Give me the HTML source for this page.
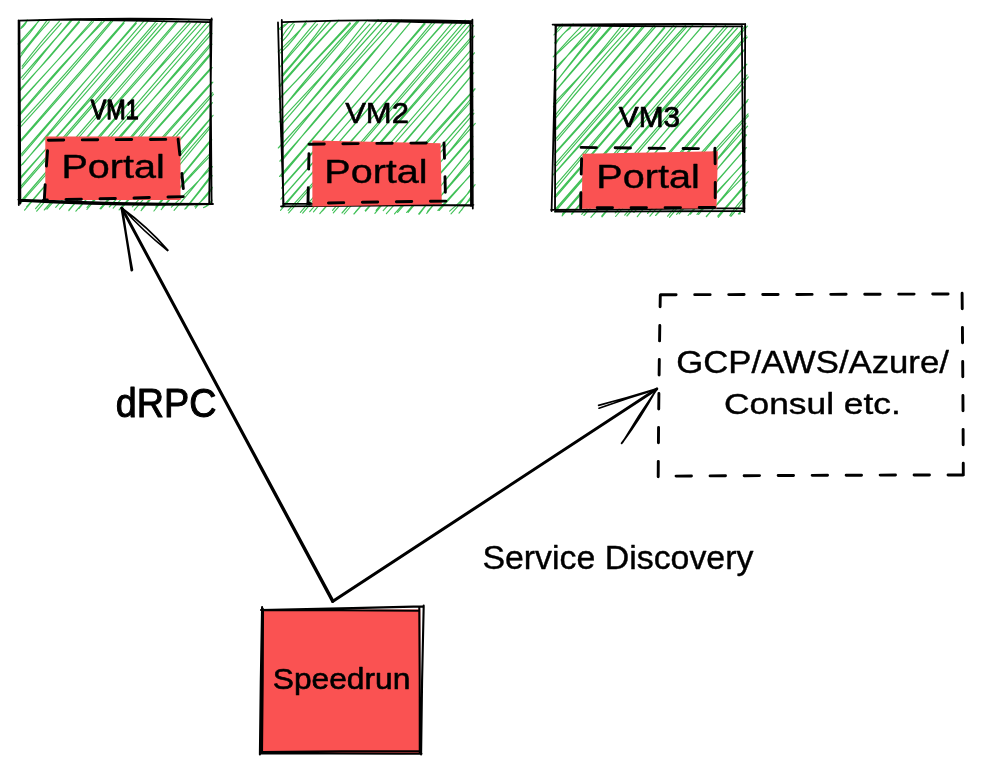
<!DOCTYPE html>
<html lang="en">
<head>
<meta charset="utf-8">
<title>Speedrun service discovery diagram</title>
<style>
html,body{margin:0;padding:0;background:#fff;}
body{width:982px;height:773px;overflow:hidden;}
svg{display:block;}
svg text{font-family:"Liberation Sans",sans-serif;fill:#000;}
svg{filter:opacity(1);}
</style>
</head>
<body>
<svg width="982" height="773" viewBox="0 0 982 773">
<rect width="982" height="773" fill="#fff"/>
<path d="M20.9 28.5Q25.3 25.5 27.3 20M21.3 27.1Q23.1 25.7 27 20.6M18.2 44Q27.8 33.2 39 20.9M20.3 43.2Q30.9 33.3 39.3 19.7M21.1 53.3Q36.1 35.7 47.6 19.7M19.8 57.6Q34.2 37.9 49.2 21.7M22.2 66.2Q39 43.6 59.5 21.1M22.1 68.7Q40.2 46.3 61.1 23.3M21 77.9Q45.5 49.9 72.6 19.5M22.7 79.5Q45.9 50.3 70.8 20.2M18.6 91Q50.3 57.7 79.5 22.2M20.4 90.5Q51.5 54.1 80.8 19M18.4 102.8Q56.6 62.5 91.8 21M19.2 103.1Q56.7 60.6 93.4 21.6M20.3 114.7Q61.1 68.3 101.5 21.9M18.8 114.9Q59.7 66 104.3 21.1M18.3 125.4Q66.4 73.3 110.7 21.3M20.3 127.1Q67.4 75.8 112.6 21.2M20.1 140.9Q71.8 80.8 125.7 19.8M21.4 140.8Q72.7 83.2 124.1 23.1M20.2 155.3Q76.4 91 136.3 23.4M21.8 155.8Q80.4 86.7 137.6 20.4M22.6 164.3Q82.7 90.7 145.3 19.4M18.5 168.4Q84.2 95.6 147.9 21.3M20.1 179Q88 100.2 156.9 20.3M21.1 176.7Q90.7 100.6 157.2 23.4M20.1 187.2Q91.9 104.8 164.1 20.3M21.1 188.2Q94.3 103.9 167.3 21.5M19.7 202.5Q98.1 111.8 176.7 21.2M21.4 202.4Q101.1 113.6 178.3 21M26.6 206.8Q106.5 114.3 190.2 23.2M24.6 210.2Q105.5 114 189 20.4M36.7 211.2Q118.5 115.7 196.8 22.7M35.6 208.7Q116.1 114.8 200.6 23.3M46.9 209.1Q130.8 115.3 211.1 22.8M44.3 210Q127.2 115.5 207.3 21.8M55.7 207.3Q135.9 118.5 212 33.5M59.5 209.1Q135.4 119.5 210.7 31.2M69 210Q142.5 125.8 212 44.1M68.8 210.6Q139.6 125.7 210.7 43.3M75.9 211.2Q143.2 135.3 209.9 55.7M79.1 208.3Q143.2 129.8 210.9 52.8M87 207.4Q148.3 139.3 212.2 67.6M86.9 209.5Q147.8 137.2 211.1 67.6M100.9 208.8Q155.6 147 212.9 82.2M100 208.6Q155.4 143.8 211.6 82.3M109.3 207Q160.1 150.5 212.6 92.7M113.2 208.2Q163.8 151.4 213.5 94.2M119.1 209.9Q166.3 156.1 212.5 102.6M121.2 208.5Q167.5 155 210.1 103.9M132.3 206.9Q174 160.4 213.1 115.3M134.2 210.1Q174.5 162.9 210.8 118.3M141.1 210.6Q176.1 169.6 210.2 127.9M141.7 209.3Q173.5 166.2 209.2 126.7M155.7 207.1Q183 174 210.9 139.6M153.9 211Q182.3 175.2 211.8 139.8M161.2 209.6Q185.8 180.5 211.4 154.9M162.4 207.4Q185.2 179.8 211.3 152.1M171.4 207.1Q193.2 187.2 212.5 166.7M174.1 210.3Q193.4 188.3 211.1 165.2M184.9 209.2Q198.3 192.6 210.1 176.6M186 208.4Q198.4 193.4 212.3 175.7M194.8 206.6Q205 199 212 188.8M195.5 208.2Q203.9 197.3 212.3 187.3M203.5 207.6Q207.8 206.5 211.6 201.9M204.9 207.2Q210.3 202.2 212.2 200.2" fill="none" stroke="#40c057" stroke-width="1.15" stroke-linecap="round"/>
<path d="M18.5 20.7Q115.2 17.3 212 19.8M60 19.7Q134.5 20.6 209 22.2M211.6 18.5Q210 110.7 209.2 203M210.2 20Q211.3 111.5 211.6 203M18.3 199.6Q115.6 203.8 213 204M20 200.8Q116.2 206.3 212.5 204.2M18.6 20.5Q18.3 112.8 18.8 205M19.4 21Q20.3 112.2 20.4 203.5" fill="none" stroke="#000" stroke-width="1.8" stroke-linecap="round" stroke-linejoin="round"/>
<polygon points="45.3,136.6 180.5,136.6 180.5,199.9 45.3,199.9" fill="#fa5252"/>
<path d="M48.4 140.2Q112.8 139.5 177.7 139.4M178.1 139.3Q181.6 168.6 184.1 197M183.3 196.6Q113.5 198.7 43.5 200M44.3 199.9Q45.9 170.2 48.4 140" fill="none" stroke="#000" stroke-width="2.9" stroke-linecap="round" stroke-linejoin="round" stroke-dasharray="15.4 18.6"/>
<text transform="translate(90.79 119.36) scale(0.8276 1)" font-size="28.14" stroke="#000" stroke-width="1.28" stroke-linejoin="round">VM1</text>
<text transform="translate(61.47 177.60) scale(1.2132 1)" font-size="32.61" stroke="#000" stroke-width="0.4" stroke-linejoin="round">Portal</text>
<path d="M280.3 29.6Q284.7 26.1 289 21.8M278.9 29.4Q281.6 25.6 287.5 23.5M282 41.5Q290 33.6 294.3 24.4M281.1 38.8Q285.9 29.2 294.2 22.1M278.2 51.9Q292.3 38.4 306.3 23.7M280.5 52.9Q295.5 38.9 306.4 20.9M281.5 64.2Q297.4 43.6 316.6 20.9M280 66.8Q300.1 43.6 317.4 24.3M282.6 76.4Q304.7 49.5 330.4 21.5M281.9 75.4Q305.7 49.3 325.9 21.2M279.2 85.9Q306.1 54.9 335.5 23.5M280.2 86.3Q310.1 51.7 338.9 20.2M279.1 98.7Q314 62.6 350.5 23.5M279.1 99.3Q312.9 63 349.9 22.7M279.3 112.7Q316.6 65.2 357.3 21M280.9 110.1Q319.6 67.5 358.7 21.4M280.9 125.3Q325.6 74.1 367.1 20.3M279.2 121.9Q323.4 74.9 369.9 24.2M281 136.2Q331.4 76.9 378.2 19.7M281.5 135.4Q330.8 77.6 381.8 22.5M278.3 148Q335.4 85 391.5 23.8M282.6 147.9Q335.5 82.6 388.8 20.8M279.8 161.1Q341.1 93.1 399.3 21.3M281.3 161.7Q339.6 89 401.5 20.2M281.5 176.3Q345.8 100.4 410.2 22.7M279.6 176.5Q346 100.9 410.5 22.2M281.5 188.2Q354.4 106.3 425.8 21.3M282.4 186.3Q354 105.6 425.1 23.8M280.9 199.2Q358.4 112.5 431.9 22.7M281.6 198.1Q358.2 111.6 435.2 22.4M281.8 207.5Q361.9 115.5 444.3 21.9M280.5 210.4Q361.2 114.8 445.9 20.8M288.1 210.3Q372.2 118.1 456.8 22.8M288.7 212.8Q372.2 118.9 453.2 21.7M300.4 212.4Q382.8 117.6 465.2 20.2M302.7 213.1Q384.2 116.8 468.4 20.9M309.7 211.6Q390.9 120 473.6 25.7M313.5 211.8Q393.7 115.8 470.9 23.4M322.5 211Q397 123.4 474.5 36.1M319.8 213.6Q393.9 125.7 471.7 36.7M333.3 212.8Q404.6 131.6 474.5 52.8M332.5 210.4Q402.4 129.1 470.6 50.4M342 213Q408.6 137.4 473.1 62.7M344.2 214Q408.5 137.7 470.9 64.3M353.9 214Q414.7 145.5 472.4 74.6M355.5 211.8Q415.5 143.6 473.8 72.8M365.2 210.6Q422 150 475 89.2M365.6 211.1Q419.7 148.2 475 88.6M374.9 213.3Q425.1 153.2 472.9 96.5M376.1 210.4Q422.7 153.9 472.2 100.3M386.4 213.7Q430.1 165.3 473.9 113.3M383.2 210.6Q429.1 160.9 473.1 110M397.6 212.3Q436.2 169.1 472.1 122.7M394.5 213.8Q435.2 167.4 475.3 123.4M406.6 212.5Q438.7 174.8 470.6 138M408.1 212.3Q438.8 174.6 473 136.6M419.3 214.1Q444.1 180.5 471.8 147.5M418.6 214Q444.5 180.8 472.9 146.7M426.7 213.4Q447.5 187.1 470.6 159.3M427.6 211.3Q451.5 183.6 473.6 158.8M437.9 210.5Q455 191.3 473.2 172.7M439.3 210.3Q456 192.1 471.5 173.7M451 213.8Q462.6 202.1 471.7 187.3M449.6 211.1Q464.3 199.4 475.1 184.7M459 213.1Q466.7 203.9 471.8 195.4M461.7 210.1Q465.2 203 472.5 198.3" fill="none" stroke="#40c057" stroke-width="1.15" stroke-linecap="round"/>
<path d="M281.9 22.2Q377.1 18.5 472.3 21.1M368 20.5Q419.5 22.1 471 23M472.4 19.6Q472.2 114.1 472.8 208.6M470.4 21.5Q471.1 113.7 471 206M281 206.3Q377.2 205.9 473.4 204.8M283 203.6Q377.5 204.2 472 205.6M278 22.5Q280 113.8 283.6 205M281.8 20Q282.9 113 283.2 206" fill="none" stroke="#000" stroke-width="1.8" stroke-linecap="round" stroke-linejoin="round"/>
<polygon points="312.3,140.4 440.5,143.2 441.8,204.2 312.4,206.6" fill="#fa5252"/>
<path d="M309 144.3Q376.2 143.2 444.2 142.9M444 143Q445 171.8 445.5 201.4M445.9 201.1Q376.3 201.8 307.5 203.5M308 202.9Q308.5 174.2 309.2 144.5" fill="none" stroke="#000" stroke-width="2.9" stroke-linecap="round" stroke-linejoin="round" stroke-dasharray="15.4 18.6"/>
<text transform="translate(345.17 122.98) scale(1.0462 1)" font-size="29.65" stroke="#000" stroke-width="0.64" stroke-linejoin="round">VM2</text>
<text transform="translate(324.27 182.70) scale(1.1870 1)" font-size="33.33" stroke="#000" stroke-width="0.4" stroke-linejoin="round">Portal</text>
<path d="M554.9 34.1Q556.6 28.7 562.2 24.2M553.9 34.9Q558.3 31.3 562.3 26.5M554.7 43Q565.2 31.7 573.2 23.8M555.9 43.8Q561.4 34 570.7 27.7M555 55.8Q568.5 41.7 585.1 28.2M553.2 56.9Q569 38.8 583.3 24.3M556.6 68.7Q574.3 47.2 592.2 26.5M552.7 70.4Q574.4 48.8 594.9 28.4M556 82Q577.9 53.4 601 24.7M556.6 81.1Q578.3 54.4 600.5 27.6M554.6 92.1Q584.7 56.7 614.3 24M556 90.3Q584.4 56 611.8 25.2M553.5 103.6Q588.3 67.8 623.3 28.3M553.3 106.8Q589 67.3 622.7 24.4M553.8 117.1Q591 69 632.2 24.7M555.6 118.1Q593.6 71.4 635.5 26M556.7 129.3Q599.7 78.2 642.8 26.1M553.8 130.8Q599.2 79.1 646.2 24.3M557.2 140.3Q605.1 82.8 655.3 27M553.8 141.2Q606.1 82.3 655.3 24.2M554.7 154.2Q611.4 92.3 664.7 26.6M556.3 151.4Q611.7 90 664.8 28M554.3 164.8Q615.5 95.8 675 23.6M556.5 165.6Q617.8 95.4 676.7 26.2M554.3 173.9Q620.6 100.9 686.6 26.9M553.1 175Q618.2 99.9 685.4 25.5M555.9 184.8Q625 106 692.6 25.1M555.8 188.8Q624.8 106 694 23.6M555.8 197.2Q631.3 109.2 703.2 25.1M554.3 196.9Q627.6 113 703 25.7M556 208.5Q636.9 116.5 715 26.5M554.8 212Q636 119.4 716.8 24.6M562.1 215.8Q645.7 120.4 727.9 26.3M562.4 214.1Q643.2 118.3 725.5 25.3M571.5 213.8Q651.5 122.4 733.3 27.5M571.7 214.4Q653.9 119.7 737.4 28M583.9 215.5Q666.1 119.9 747.4 26.1M581.7 214.4Q664.8 118.9 745.4 26M590.9 217.4Q669.8 128 746.1 35.7M593.7 214.3Q669 127.1 747.2 37M602 216.9Q670.9 132.1 743.6 50M601.7 216.1Q672.1 132 745 49.4M615.3 213Q680.9 138.7 746.9 64.2M615.6 216.5Q680.7 141.2 746 64.7M624.7 215.1Q687.6 144.9 747.1 74.9M626.9 216Q687.3 146 748.3 76.9M637.3 216.7Q689.1 149.8 744.1 86.3M633.8 212.5Q690 150 744.7 86.5M649.9 216.2Q698 159.5 748.2 99.4M647.5 213.5Q697.5 156.7 747.3 101.4M655.6 215.5Q703 167.4 748.3 115.8M656.9 214Q703.2 162 748.1 113.8M667.6 216.2Q707 170.7 747.6 126.2M669.5 217.4Q708.2 170.5 745.9 123.3M676.6 214.4Q711.7 176.5 746.6 134.9M679.2 213.8Q713.3 174.8 745.6 134.7M688.1 215.5Q716.5 180.9 746.4 147.5M690.4 214.2Q716.9 180.6 746 147.9M697 214.3Q720.3 187.4 745.2 161.8M698.6 214.5Q720.6 188.1 746.1 160.3M706.3 216.5Q726.1 193.9 748.4 171.7M706.5 216.7Q726.1 193.6 744.7 169.3M718.3 217.3Q731.6 201.2 745.8 185.4M717.7 216.1Q732.6 199.9 747.3 181.9M729.8 215.6Q737.7 203.2 747.1 194.7M730.9 216.4Q739.8 205.7 745.5 197.8M739.9 214.1Q740.6 209.2 744.8 208M738.4 214Q742.7 209.8 744.3 206.6" fill="none" stroke="#40c057" stroke-width="1.15" stroke-linecap="round"/>
<path d="M552.6 24.6Q648.6 23.8 744.6 24.1M555 25.3Q648.6 26.7 742.3 26.2M745.2 24Q744.4 118 744.4 212M741.8 26Q743 117.7 743.4 209.5M551 209.8Q647.8 209.6 744.6 208.2M555 211.6Q649.2 211.7 743.4 211M556 25.5Q553.4 118.2 551.6 211M555.5 26Q555.6 118 555 210" fill="none" stroke="#000" stroke-width="1.8" stroke-linecap="round" stroke-linejoin="round"/>
<polygon points="582.6,153.8 717.9,151.2 716.5,208.6 581.8,208.8" fill="#fa5252"/>
<path d="M581.1 147.4Q648.1 148.3 715.1 148.7M714.9 148.3Q715.5 178.5 715.1 208M714.7 207.5Q647.2 207.8 580.7 207.6M580.7 208.3Q580.9 177.5 582 147.4" fill="none" stroke="#000" stroke-width="2.9" stroke-linecap="round" stroke-linejoin="round" stroke-dasharray="15.4 18.6"/>
<text transform="translate(618.81 127.04) scale(1.0215 1)" font-size="29.23" stroke="#000" stroke-width="0.73" stroke-linejoin="round">VM3</text>
<text transform="translate(596.37 188.30) scale(1.2157 1)" font-size="32.61" stroke="#000" stroke-width="0.4" stroke-linejoin="round">Portal</text>
<path d="M660.7 294.7Q811.2 294.5 961.6 293.9M962.1 293.3Q963 384.4 963.3 475.1M963.4 474.9Q810.8 475.2 657.6 476.2M658.2 476.7Q658.7 386.5 660.3 295.3" fill="none" stroke="#000" stroke-width="2.9" stroke-linecap="round" stroke-linejoin="round" stroke-dasharray="15.4 18.6"/>
<text transform="translate(676.29 373.20) scale(1.1302 1)" font-size="30.72" stroke="#000" stroke-width="0.4" stroke-linejoin="round">GCP/AWS/Azure/</text>
<text transform="translate(723.97 413.60) scale(1.1843 1)" font-size="29.86" stroke="#000" stroke-width="0.4" stroke-linejoin="round">Consul etc.</text>
<polygon points="262.5,609.5 420.3,609.5 420.3,753 261.8,753" fill="#fa5252"/>
<path d="M261 610Q342.4 608.6 423.7 606.4M261.4 610Q339.9 610 418.4 610.8M423.7 605.6Q421.8 680 421.1 754.4M419.3 607.1Q419.9 680 419.8 753M259.9 753.3Q340.7 753.9 421.5 753.8M262 752Q341.5 751.1 421 751M262.1 607.1Q260.6 680.7 259.9 754.4M263 609Q262.9 681 262 753" fill="none" stroke="#000" stroke-width="2.1" stroke-linecap="round" stroke-linejoin="round"/>
<text transform="translate(272.78 688.50) scale(1.0523 1)" font-size="30.16" stroke="#000" stroke-width="0.59" stroke-linejoin="round">Speedrun</text>
<path d="M332.6 601.6Q227.5 404.8 121.8 208.2M333 601Q227.3 404.9 122.2 208.6" fill="none" stroke="#000" stroke-width="2.8" stroke-linecap="round" stroke-linejoin="round"/>
<path d="M332.6 601.6Q494.7 495.8 656.4 389.4M333.2 601Q494.8 494.6 656.8 388.8" fill="none" stroke="#000" stroke-width="2.8" stroke-linecap="round" stroke-linejoin="round"/>
<path d="M131.6 270.4Q127 239.1 121.6 208M132.1 269.8Q126.5 239.2 122.1 208.4" fill="none" stroke="#000" stroke-width="2.3" stroke-linecap="round" stroke-linejoin="round"/>
<path d="M168 250.2Q147.2 226.6 121.8 208M167.6 250.6Q143.1 231.1 122.2 207.8" fill="none" stroke="#000" stroke-width="1.6" stroke-linecap="round" stroke-linejoin="round"/>
<path d="M598.6 405.4Q627.8 397.7 656.6 388.8M599 408.2Q627.8 397.9 657 389.2" fill="none" stroke="#000" stroke-width="1.7" stroke-linecap="round" stroke-linejoin="round"/>
<path d="M621.6 443.4Q640.9 417.8 656.2 389.6M622.6 442.4Q638.9 414.9 657.2 388.8" fill="none" stroke="#000" stroke-width="1.8" stroke-linecap="round" stroke-linejoin="round"/>
<text transform="translate(115.87 416.87) scale(0.9285 1)" font-size="40.64" stroke="#000" stroke-width="1.06" stroke-linejoin="round">dRPC</text>
<text transform="translate(482.38 568.79) scale(1.0043 1)" font-size="33.74" stroke="#000" stroke-width="0.42" stroke-linejoin="round">Service Discovery</text>
</svg>
</body>
</html>
